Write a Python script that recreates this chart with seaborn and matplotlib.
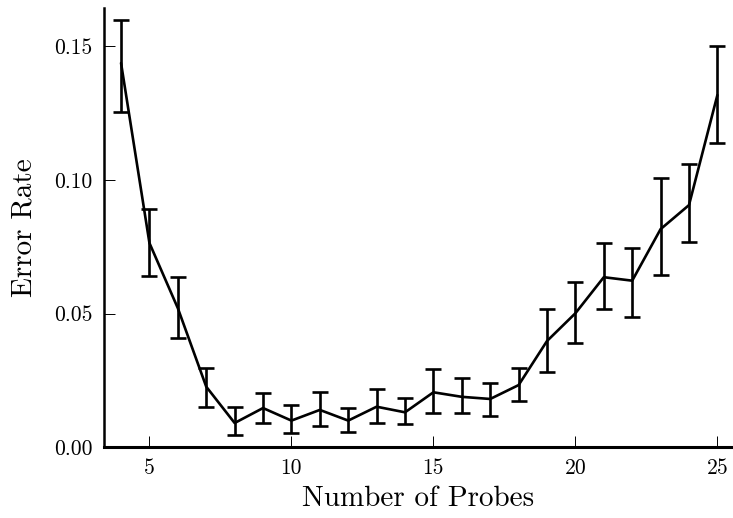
import matplotlib
matplotlib.use("Agg")
import matplotlib.pyplot as plt
import seaborn as sns
import numpy as np
import pandas as pd

probes = [4, 5, 6, 7, 8, 9, 10, 11, 12, 13, 14, 15, 16, 17, 18, 19, 20, 21, 22, 23, 24, 25]
error_rate = [0.1438, 0.0764, 0.0520, 0.0226, 0.0090, 0.0146, 0.0099, 0.0139, 0.0099, 0.0151, 0.0130,
              0.0205, 0.0188, 0.0180, 0.0232, 0.0397, 0.0501, 0.0636, 0.0623, 0.0816, 0.0906, 0.1318]
err_low = [0.1256, 0.0640, 0.0409, 0.0150, 0.0045, 0.0089, 0.0051, 0.0080, 0.0058, 0.0091, 0.0085,
           0.0128, 0.0128, 0.0117, 0.0172, 0.0281, 0.0389, 0.0516, 0.0488, 0.0643, 0.0767, 0.1139]
err_high = [0.1600, 0.0891, 0.0637, 0.0297, 0.0150, 0.0202, 0.0157, 0.0207, 0.0146, 0.0216, 0.0182,
            0.0292, 0.0257, 0.0238, 0.0297, 0.0516, 0.0619, 0.0763, 0.0746, 0.1007, 0.1060, 0.1500]
x_ticks = [5, 10, 15, 20, 25]
y_ticks = [0.00, 0.05, 0.10, 0.15]

df = pd.DataFrame({"probes": probes, "err": error_rate, "lo": err_low, "hi": err_high})

sns.set_style("ticks")
plt.rcParams["font.family"] = ["cmr10", "DejaVu Serif"]
plt.rcParams["axes.formatter.use_mathtext"] = True
plt.rcParams["axes.edgecolor"] = "black"
plt.rcParams["xtick.color"] = "black"
plt.rcParams["ytick.color"] = "black"
plt.rcParams["text.color"] = "black"
plt.rcParams["axes.labelcolor"] = "black"

fig = plt.figure(figsize=(7.33, 5.18), dpi=100)
ax = fig.add_axes([0.1415, 0.137, 0.8585, 0.848])

sns.lineplot(data=df, x="probes", y="err", ax=ax, color="black", linewidth=1.9, errorbar=None)
yerr = np.vstack([df["err"] - df["lo"], df["hi"] - df["err"]])
ax.errorbar(df["probes"], df["err"], yerr=yerr, fmt="none", ecolor="black",
            elinewidth=1.9, capsize=6, capthick=1.9)

ax.set_xlim(3.39, 25.55)
ax.set_ylim(0, 0.1645)
ax.set_xticks(x_ticks)
ax.set_xticklabels([str(t) for t in x_ticks])
ax.set_yticks(y_ticks)
ax.set_yticklabels([f"{t:.2f}" for t in y_ticks])
ax.tick_params(direction="in", length=8, width=0.7, labelsize=15.5, pad=8)
ax.set_xlabel("Number of Probes", fontsize=21, labelpad=6)
ax.set_ylabel("Error Rate", fontsize=21, labelpad=12)
for s in ["top", "right"]:
    ax.spines[s].set_visible(False)
ax.spines["left"].set_linewidth(1.8)
ax.spines["bottom"].set_linewidth(2.2)

fig.savefig("out.png", dpi=100)
